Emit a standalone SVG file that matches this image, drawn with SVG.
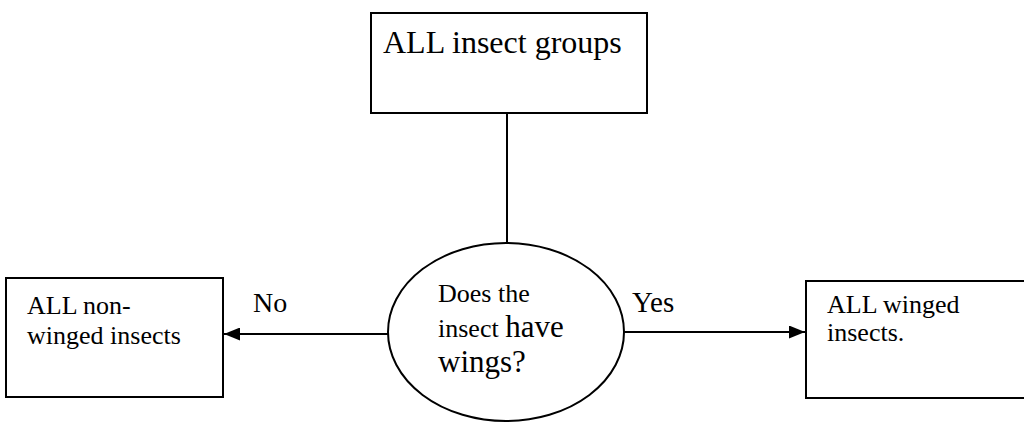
<svg xmlns="http://www.w3.org/2000/svg" width="1024" height="423" viewBox="0 0 1024 423">
<style>
.box{fill:#fff;stroke:#000;stroke-width:2}
.t{font-family:'Liberation Serif','Times New Roman','DejaVu Serif',serif;fill:#000}
.edge{stroke:#000;stroke-width:2;fill:none}
</style>
<defs>
<marker id="arr" markerUnits="userSpaceOnUse" markerWidth="16" markerHeight="13" refX="16" refY="6.5" orient="auto">
<path d="M0,0 L16,6.5 L0,13 Z" fill="#000"/>
</marker>
</defs>
<rect width="1024" height="423" fill="#fff"/>
<g id="connectors">
<line class="edge" x1="507" y1="113" x2="507" y2="243"/>
<line class="edge" x1="388" y1="334" x2="224" y2="334" marker-end="url(#arr)"/>
<line class="edge" x1="624" y1="332" x2="805" y2="332" marker-end="url(#arr)"/>
<text class="t" font-family="Liberation Serif, Times New Roman, DejaVu Serif, serif" x="253" y="312" font-size="28">No</text>
<text class="t" font-family="Liberation Serif, Times New Roman, DejaVu Serif, serif" x="632" y="312" font-size="29" fill="#222">Yes</text>
</g>
<g id="node-all">
<rect class="box" x="371" y="13" width="276" height="100"/>
<text class="t" font-family="Liberation Serif, Times New Roman, DejaVu Serif, serif" x="383" y="53" font-size="32">ALL insect groups</text>
</g>
<g id="node-question">
<ellipse class="box" cx="506" cy="332" rx="118" ry="89"/>
<text class="t" font-family="Liberation Serif, Times New Roman, DejaVu Serif, serif" x="438" y="302" font-size="26">Does the</text>
<text class="t" font-family="Liberation Serif, Times New Roman, DejaVu Serif, serif" x="438" y="337" font-size="26">insect <tspan font-size="31">have</tspan></text>
<text class="t" font-family="Liberation Serif, Times New Roman, DejaVu Serif, serif" x="438" y="372" font-size="31">wings?</text>
</g>
<g id="node-nonwinged">
<rect class="box" x="6" y="278" width="217" height="119"/>
<text class="t" font-family="Liberation Serif, Times New Roman, DejaVu Serif, serif" x="27" y="314" font-size="26">ALL non-</text>
<text class="t" font-family="Liberation Serif, Times New Roman, DejaVu Serif, serif" x="27" y="344" font-size="26">winged insects</text>
</g>
<g id="node-winged">
<rect class="box" x="806" y="281" width="240" height="117"/>
<text class="t" font-family="Liberation Serif, Times New Roman, DejaVu Serif, serif" x="827" y="313" font-size="26">ALL winged</text>
<text class="t" font-family="Liberation Serif, Times New Roman, DejaVu Serif, serif" x="827" y="341" font-size="26">insects.</text>
</g>
</svg>
